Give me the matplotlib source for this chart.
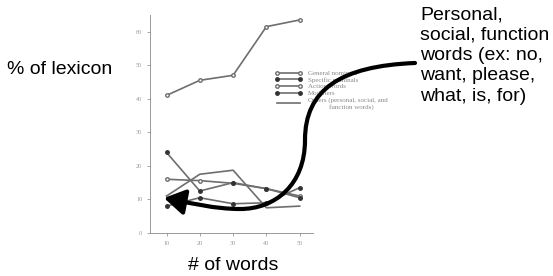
import matplotlib
matplotlib.use('Agg')
import matplotlib.pyplot as plt
from matplotlib.path import Path
from matplotlib.patches import FancyArrowPatch

words = [10, 20, 30, 40, 50]
general_nominals = [41, 45.5, 47, 61.5, 63.5]
specific_nominals = [8, 10.5, 8.7, 9, 13.5]
action_words = [16, 15.6, 14.8, 13.2, 11]
modifiers = [24, 12.5, 15, 13.2, 10.5]
others = [11, 17.5, 18.7, 7.5, 8]
y_ticks = [0, 10, 20, 30, 40, 50, 60]

W, H = 553, 276
fig = plt.figure(figsize=(W / 100, H / 100), dpi=100)
ax = fig.add_axes([0.271, 0.156, 0.295, 0.79])

grey = '#6e6e6e'
ax.plot(words, general_nominals, color=grey, lw=1.2, marker='o', ms=2.5, mfc='white', mec=grey, label='General nominals')
ax.plot(words, specific_nominals, color=grey, lw=1.2, marker='o', ms=2.5, mfc='#333333', mec='#333333', label='Specific nominals')
ax.plot(words, action_words, color=grey, lw=1.2, marker='o', ms=2.5, mfc='white', mec=grey, label='Action words')
ax.plot(words, modifiers, color=grey, lw=1.2, marker='o', ms=2.5, mfc='#333333', mec='#333333', label='Modifiers')
ax.plot(words, others, color=grey, lw=1.2, label='Others (personal, social, and\n            function words)')

ax.set_xlim(5, 54)
ax.set_ylim(0, 65)
ax.set_xticks(words)
ax.set_yticks(y_ticks)
ax.tick_params(labelsize=4.5, colors='#999999', length=2, width=0.6)
for s in ['top', 'right']:
    ax.spines[s].set_visible(False)
for s in ['left', 'bottom']:
    ax.spines[s].set_color('#999999')
    ax.spines[s].set_linewidth(0.7)
for lab in ax.get_xticklabels() + ax.get_yticklabels():
    lab.set_family('Liberation Serif')

leg = ax.legend(loc='upper left', bbox_to_anchor=(0.73, 0.775), frameon=False, numpoints=2,
                handlelength=3.9, labelspacing=0.12, handletextpad=0.8,
                prop={'family': 'Liberation Serif', 'size': 5})
for t in leg.get_texts():
    t.set_color('#888888')

sans = 'Liberation Sans'
fig.text(7 / W, 1 - 70 / H, '% of lexicon', family=sans, fontsize=14, va='center', ha='left')
fig.text(233 / W, 1 - 265 / H, '# of words', family=sans, fontsize=14, va='center', ha='center')
fig.text(420 / W, 1 - 6 / H, 'Personal,\nsocial, function\nwords (ex: no,\nwant, please,\nwhat, is, for)',
         family=sans, fontsize=14, va='top', ha='left', linespacing=1.26)

# annotation arrow, pixel coordinates from the top-left corner
pts = [(415, 63), (340, 66), (305, 90), (305, 140),
       (305, 185), (275, 209), (240, 209),
       (215, 209), (190, 203), (164, 198)]
codes = [Path.MOVETO] + [Path.CURVE4] * 9
verts = [(x / W, 1 - y / H) for x, y in pts]
arrow = FancyArrowPatch(path=Path(verts, codes), arrowstyle='-|>,head_length=0.9,head_width=0.55',
                        mutation_scale=14, lw=3, color='black', transform=fig.transFigure)
fig.patches.append(arrow)

fig.savefig('out.png', dpi=100)
